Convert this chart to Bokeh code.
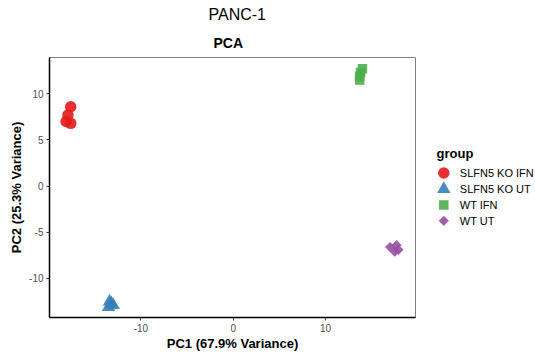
import math
from bokeh.plotting import figure
from bokeh.models import Range1d, FixedTicker, Title
from bokeh.layouts import row
from bokeh.core.properties import value
from bokeh.embed import file_html
from bokeh.resources import INLINE

# ---- data ----
groups = ["SLFN5 KO IFN", "SLFN5 KO UT", "WT IFN", "WT UT"]
pc1_ko_ifn = [-17.6, -17.9, -18.1, -17.6]
pc2_ko_ifn = [8.6, 7.7, 7.0, 6.8]
pc1_ko_ut = [-13.4, -13.2, -13.0, -13.5]
pc2_ko_ut = [-12.5, -12.7, -12.9, -13.1]
pc1_wt_ifn = [14.0, 13.8, 13.7, 13.7]
pc2_wt_ifn = [12.7, 12.3, 11.9, 11.5]
pc1_wt_ut = [17.0, 17.7, 17.9, 17.5]
pc2_wt_ut = [-6.6, -6.4, -6.9, -7.1]
x_ticks = [-10, 0, 10]
x_tick_labels = ["-10", "0", "10"]
y_ticks = [-10, -5, 0, 5, 10]
y_tick_labels = ["-10", "-5", "0", "5", "10"]

colors = ["#E41A1C", "#377EB8", "#4DAF4A", "#984EA3"]
markers = ["circle", "triangle", "square", "square"]
sizes = [11.5, 13.5, 9.5, 7.2]
angles = [0, 0, 0, math.pi / 4]
xs = [pc1_ko_ifn, pc1_ko_ut, pc1_wt_ifn, pc1_wt_ut]
ys = [pc2_ko_ifn, pc2_ko_ut, pc2_wt_ifn, pc2_wt_ut]

FONT = "Liberation Sans"

W, H = 430, 353
TOP, BOTTOM = 57, 35
p = figure(width=W, height=H, output_backend="svg", toolbar_location=None,
           title="PANC-1",
           x_range=Range1d(-19.9, 19.75), y_range=Range1d(-14.23, 13.93),
           min_border_left=49, min_border_right=15, min_border_top=TOP,
           min_border_bottom=BOTTOM)
p.grid.visible = False
p.outline_line_color = "#808080"
p.outline_line_width = 1
p.background_fill_color = "white"

p.title.text_font = FONT
p.title.text_font_size = "16px"
p.title.text_font_style = "normal"
p.title.text_color = "black"
p.title.align = "left"
p.title.offset = 159
p.title.vertical_align = "middle"
p.title.standoff = 9

p.add_layout(Title(text="PCA", text_font=FONT, text_font_size="14px",
                   text_font_style="bold", text_color="black", align="left",
                   offset=164, vertical_align="middle", standoff=11), "above")

for x, y, c, m, s, a in zip(xs, ys, colors, markers, sizes, angles):
    p.scatter(x, y, marker=m, size=s, angle=a, fill_color=c, fill_alpha=0.9,
              line_color=None)

for ax in (p.xaxis[0], p.yaxis[0]):
    ax.axis_line_color = "black"
    ax.axis_line_width = 1.5
    ax.major_tick_line_color = "#333333"
    ax.major_tick_out = 3
    ax.major_tick_in = 0
    ax.minor_tick_out = 0
    ax.minor_tick_in = 0
    ax.major_label_text_font = FONT
    ax.major_label_text_font_size = "10px"
    ax.major_label_text_color = "#4D4D4D"
    ax.major_label_standoff = 3
    ax.axis_label_text_font = FONT
    ax.axis_label_text_font_size = "13px"
    ax.axis_label_text_font_style = "bold"
    ax.axis_label_text_color = "black"

p.xaxis[0].ticker = FixedTicker(ticks=x_ticks)
p.xaxis[0].major_label_overrides = dict(zip(x_ticks, x_tick_labels))
p.yaxis[0].ticker = FixedTicker(ticks=y_ticks)
p.yaxis[0].major_label_overrides = dict(zip(y_ticks, y_tick_labels))

p.xaxis[0].axis_label = "PC1 (67.9% Variance)"
p.xaxis[0].axis_label_standoff = 1
p.yaxis[0].axis_label = "PC2 (25.3% Variance)"
p.yaxis[0].axis_label_standoff = 2

# ---- legend panel (frame aligned with the main plot's frame) ----
LW = 535 - W
lg = figure(width=LW, height=H, output_backend="svg", toolbar_location=None,
            title=None,
            x_range=Range1d(0, LW), y_range=Range1d(H - BOTTOM, TOP),
            x_axis_type=None, y_axis_type=None,
            min_border=0, min_border_left=0, min_border_right=0,
            min_border_top=TOP, min_border_bottom=BOTTOM)
lg.grid.visible = False
lg.outline_line_color = None

key_x = 13.3
text_x = 29.3
y0, step = 173, 16
lg.text([6], [153], text=["group"], text_font=value(FONT), text_font_size="13px",
        text_font_style="bold", text_baseline="middle", text_color="black")
for i, (g, c, m, s, a) in enumerate(zip(groups, colors, markers, sizes, angles)):
    yy = y0 + i * step
    lg.scatter([key_x], [yy], marker=m, size=s, angle=a, fill_color=c,
               fill_alpha=0.9, line_color=None)
    lg.text([text_x], [yy], text=[g], text_font=value(FONT), text_font_size="11px",
            text_baseline="middle", text_color="black")

layout = row(p, lg)
open("out.html", "w").write(file_html(layout, INLINE))
